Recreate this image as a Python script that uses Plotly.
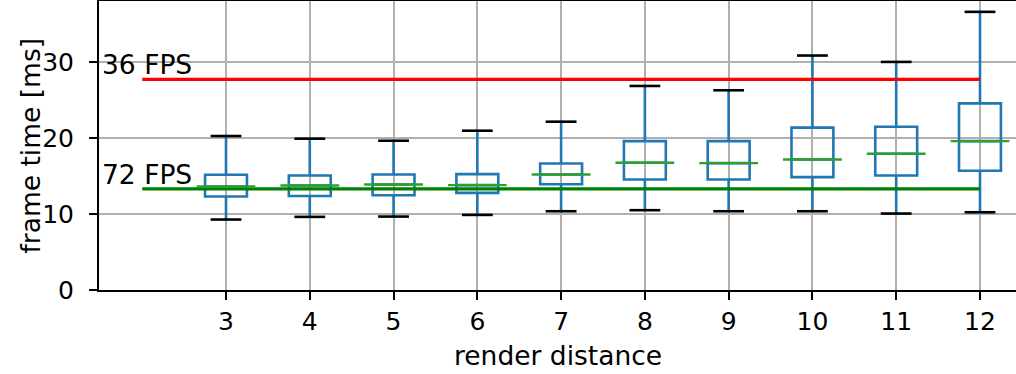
import plotly.graph_objects as go

render_distance = [3, 4, 5, 6, 7, 8, 9, 10, 11, 12]
whisker_low = [9.29, 9.64, 9.68, 9.90, 10.38, 10.52, 10.38, 10.38, 10.08, 10.25]
q1 = [12.32, 12.40, 12.50, 12.81, 13.95, 14.57, 14.57, 14.88, 15.10, 15.72]
median = [13.65, 13.78, 13.91, 13.82, 15.23, 16.77, 16.72, 17.21, 17.96, 19.63]
q3 = [15.19, 15.10, 15.23, 15.27, 16.68, 19.63, 19.63, 21.40, 21.53, 24.61]
whisker_high = [20.30, 19.95, 19.68, 21.00, 22.19, 26.90, 26.33, 30.91, 30.07, 36.67]

fps_labels = ["36 FPS", "72 FPS"]
fps_times = [27.77, 13.33]
fps_colors = ["red", "green"]
line_start, line_end = 2, 12

FONT = "DejaVu Sans"
FS = 25
FS_T = 26.5
BLUE = "#1f77b4"

fig = go.Figure()
fig.add_trace(go.Box(
    x=render_distance, q1=q1, median=median, q3=q3,
    lowerfence=whisker_low, upperfence=whisker_high,
    width=0.5, whiskerwidth=0,
    line=dict(color=BLUE, width=2.6), fillcolor="rgba(0,0,0,0)",
    boxpoints=False, showlegend=False, hoverinfo="skip",
))
# whisker caps
fig.add_trace(go.Scatter(
    x=render_distance + render_distance, y=whisker_low + whisker_high,
    mode="markers",
    marker=dict(symbol="line-ew", size=22, line=dict(color="black", width=2.6)),
    showlegend=False, hoverinfo="skip",
))
# FPS lines
for lab, t, c in zip(fps_labels, fps_times, fps_colors):
    fig.add_trace(go.Scatter(
        x=[line_start, line_end], y=[t, t], mode="lines",
        line=dict(color=c, width=3.4), showlegend=False, hoverinfo="skip",
    ))
# medians
fig.add_trace(go.Scatter(
    x=render_distance, y=median, mode="markers",
    marker=dict(symbol="line-ew", size=42, line=dict(color="#2ca02c", width=2.4)),
    showlegend=False, hoverinfo="skip",
))

for lab, t in zip(fps_labels, fps_times):
    fig.add_annotation(
        x=1.50, y=t, xref="x", yref="y", text=lab, showarrow=False,
        xanchor="left", yanchor="bottom", yshift=-3,
        font=dict(family=FONT, size=FS_T, color="black"),
    )

# axis titles
fig.add_annotation(
    x=0.5, y=-0.225, xref="paper", yref="paper", text="render distance",
    showarrow=False, xanchor="center", yanchor="middle",
    font=dict(family=FONT, size=FS_T, color="black"),
)
fig.add_annotation(
    x=-0.0752, y=0.5, xref="paper", yref="paper", text="frame time [ms]",
    showarrow=False, xanchor="center", yanchor="middle", textangle=-90,
    font=dict(family=FONT, size=FS_T, color="black"),
)

fig.update_layout(
    width=1016, height=374,
    margin=dict(l=99, r=0, t=1, b=84, autoexpand=False),
    paper_bgcolor="white", plot_bgcolor="white",
    font=dict(family=FONT, size=FS, color="black"),
    showlegend=False,
)
fig.update_xaxes(
    range=[1.484, 12.43], tickmode="array", tickvals=render_distance,
    ticktext=[str(v) for v in render_distance],
    showgrid=True, gridcolor="#b0b0b0", gridwidth=1.8,
    showline=True, linecolor="black", linewidth=2, mirror=True,
    ticks="outside", ticklen=8, tickwidth=2, tickcolor="black",
    zeroline=False, automargin=False,
)
fig.update_yaxes(
    range=[0, 38.1], tickvals=[0, 10, 20, 30],
    showgrid=True, gridcolor="#b0b0b0", gridwidth=1.8,
    showline=True, linecolor="black", linewidth=2,
    ticks="outside", ticklen=8, tickwidth=2, tickcolor="black",
    zeroline=False, ticklabelstandoff=10, automargin=False,
)

fig.write_html("out.html", config={"displayModeBar": False},
               post_script="document.body.style.margin='0';")
